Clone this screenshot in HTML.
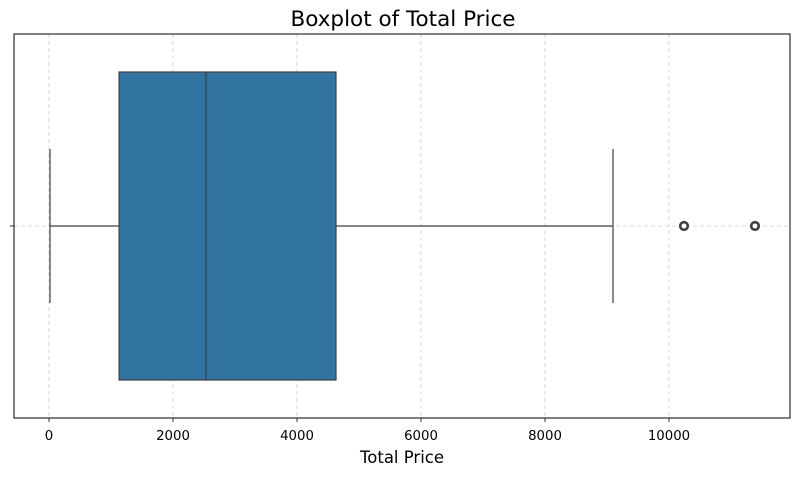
<!DOCTYPE html>
<html><head><meta charset="utf-8"><style>
body{margin:0;background:#fff;font-family:"DejaVu Sans","Liberation Sans",sans-serif;}
</style></head><body>
<svg width="799" height="476" xmlns="http://www.w3.org/2000/svg" font-family="DejaVu Sans, Liberation Sans, sans-serif">
<text x="403" y="26" text-anchor="middle" font-size="21.5" fill="#000">Boxplot of Total Price</text>
<g id="grid"></g>
<g id="box"></g>
<rect x="14" y="34" width="776" height="384" fill="none" stroke="#000" stroke-width="1"/>
<line x1="10" y1="226" x2="14" y2="226" stroke="#000" stroke-width="0.8"/>
<g id="ticks"></g>
<text x="402" y="463" text-anchor="middle" font-size="16.5">Total Price</text>
</svg>
<script>
const tickValues=[0,2000,4000,6000,8000,10000];
const tickLabels=["0","2000","4000","6000","8000","10000"];
const stats=[16,1130,2532,4629,9097];
const outliers=[10242,11387];
const NS="http://www.w3.org/2000/svg";
function x(v){return 49+v*0.062;}
function mk(t,a,p){const e=document.createElementNS(NS,t);for(const k in a)e.setAttribute(k,a[k]);p.appendChild(e);return e;}
const grid=document.getElementById('grid'),ticks=document.getElementById('ticks'),box=document.getElementById('box');
tickValues.forEach((v,i)=>{
 const g=mk('line',{x1:x(v),x2:x(v),y1:34,y2:418,stroke:'#ccc','stroke-dasharray':'4,3','stroke-width':0.8},grid);
 
 
 const t=mk('line',{x1:x(v),x2:x(v),y1:418,y2:422,stroke:'#000','stroke-width':0.8},ticks);
 
 
 const l=mk('text',{x:x(v),y:440,'text-anchor':'middle','font-size':13.3},ticks);
 l.textContent=tickLabels[i];
 
 
});
const hg=mk('line',{x1:14,x2:790,y1:226,y2:226,stroke:'#ccc','stroke-dasharray':'4,3','stroke-width':0.8},grid);


const c='#3f3f3f';
const w1=mk('line',{x1:x(stats[0]),x2:x(stats[1]),y1:226,y2:226,stroke:c,'stroke-width':1.2},box);


const w2=mk('line',{x1:x(stats[3]),x2:x(stats[4]),y1:226,y2:226,stroke:c,'stroke-width':1.2},box);


const c1=mk('line',{x1:x(stats[0]),x2:x(stats[0]),y1:149,y2:303,stroke:c,'stroke-width':1.2},box);


const c2=mk('line',{x1:x(stats[4]),x2:x(stats[4]),y1:149,y2:303,stroke:c,'stroke-width':1.2},box);


const r=mk('rect',{x:x(stats[1]),y:72,width:x(stats[3])-x(stats[1]),height:308,fill:'#3274a1',stroke:c,'stroke-width':1.2},box);


const m=mk('line',{x1:x(stats[2]),x2:x(stats[2]),y1:72,y2:380,stroke:c,'stroke-width':1.2},box);


outliers.forEach(v=>{
 const o=mk('circle',{cx:x(v),cy:226,r:3.8,fill:'none',stroke:c,'stroke-width':2.6},box);
 
 
});
</script>
</body></html>
